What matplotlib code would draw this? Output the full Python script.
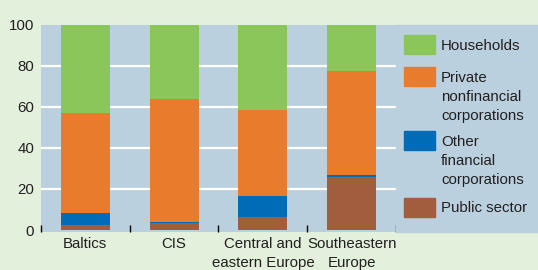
import matplotlib
matplotlib.use("Agg")
import matplotlib.pyplot as plt
from matplotlib.patches import Rectangle

plt.rcParams['font.family'] = ['Liberation Sans', 'DejaVu Sans']

# data (percent of total, stacked from the bottom up)
categories = ["Baltics", "CIS", "Central and\neastern Europe", "Southeastern\nEurope"]
public_sector = [2.3, 3.3, 6.2, 25.8]
other_financial = [6.0, 0.8, 10.5, 1.0]
private_nonfin = [48.7, 59.7, 41.7, 50.6]
households = [43.0, 36.2, 41.6, 22.6]

series_names = ["Public sector", "Other\nfinancial\ncorporations",
                "Private\nnonfinancial\ncorporations", "Households"]
series = [public_sector, other_financial, private_nonfin, households]
colors = ['#a25d3e', '#006bb6', '#e97b2c', '#8bc65a']

bg_fig = '#e2f0dc'
bg_ax = '#bad0de'
txt = '#231f20'
fs = 10.8

W, H = 538, 270
fig = plt.figure(figsize=(W / 100, H / 100), dpi=100, facecolor=bg_fig)
ax = fig.add_axes([41 / W, 1 - 231.7 / H, (396 - 41) / W, (231.7 - 24.7) / H])
ax.set_facecolor(bg_ax)

# background behind the legend, same colour as the plot area
fig.patches.append(Rectangle((396 / W, 1 - 231.7 / H), (W - 396) / W, 207 / H,
                             transform=fig.transFigure, color=bg_ax, zorder=0))

ax.set_xlim(0, 4)
ax.set_ylim(-0.8, 100)
ax.hlines([20, 40, 60, 80], 0, 4, colors='white', lw=1.6, zorder=0.5)

x = [i + 0.5 for i in range(len(categories))]
bottom = [0.0] * len(categories)
for vals, c in zip(series, colors):
    ax.bar(x, vals, bottom=bottom, width=0.55, color=c, zorder=2)
    bottom = [b + v for b, v in zip(bottom, vals)]

for s in ax.spines.values():
    s.set_visible(False)

ax.set_yticks([0, 20, 40, 60, 80, 100])
ax.set_xticks(x)
ax.set_xticklabels(categories, fontsize=fs, color=txt, linespacing=1.45)
ax.set_xticks(range(5), minor=True)
ax.tick_params(axis='x', which='major', length=0, pad=4)
ax.tick_params(axis='x', which='minor', direction='in', length=5, width=1, color='black')
ax.tick_params(axis='y', length=0, pad=5, labelsize=fs, labelcolor=txt)

# legend drawn by hand on the right
patch_top = [198, 131, 67.3, 35]
text_top = [201.5, 135, 70.7, 39]
for name, c, pt, tt in zip(series_names, colors, patch_top, text_top):
    fig.patches.append(Rectangle((404 / W, 1 - (pt + 19) / H), 31 / W, 19 / H,
                                 transform=fig.transFigure, color=c, zorder=1))
    fig.text(441 / W, 1 - tt / H, name, fontsize=fs, color=txt, va='top', ha='left',
             linespacing=1.45)

# subtitle mostly cut off by the top edge, as in the source
fig.text(262 / W, 1 + 3.5 / H,
         "(Share of foreign currency lending, by borrowing sector; end-2008, percent)",
         fontsize=fs, color=txt, ha='center', va='baseline')

fig.savefig("out.png", dpi=100, facecolor=bg_fig)
